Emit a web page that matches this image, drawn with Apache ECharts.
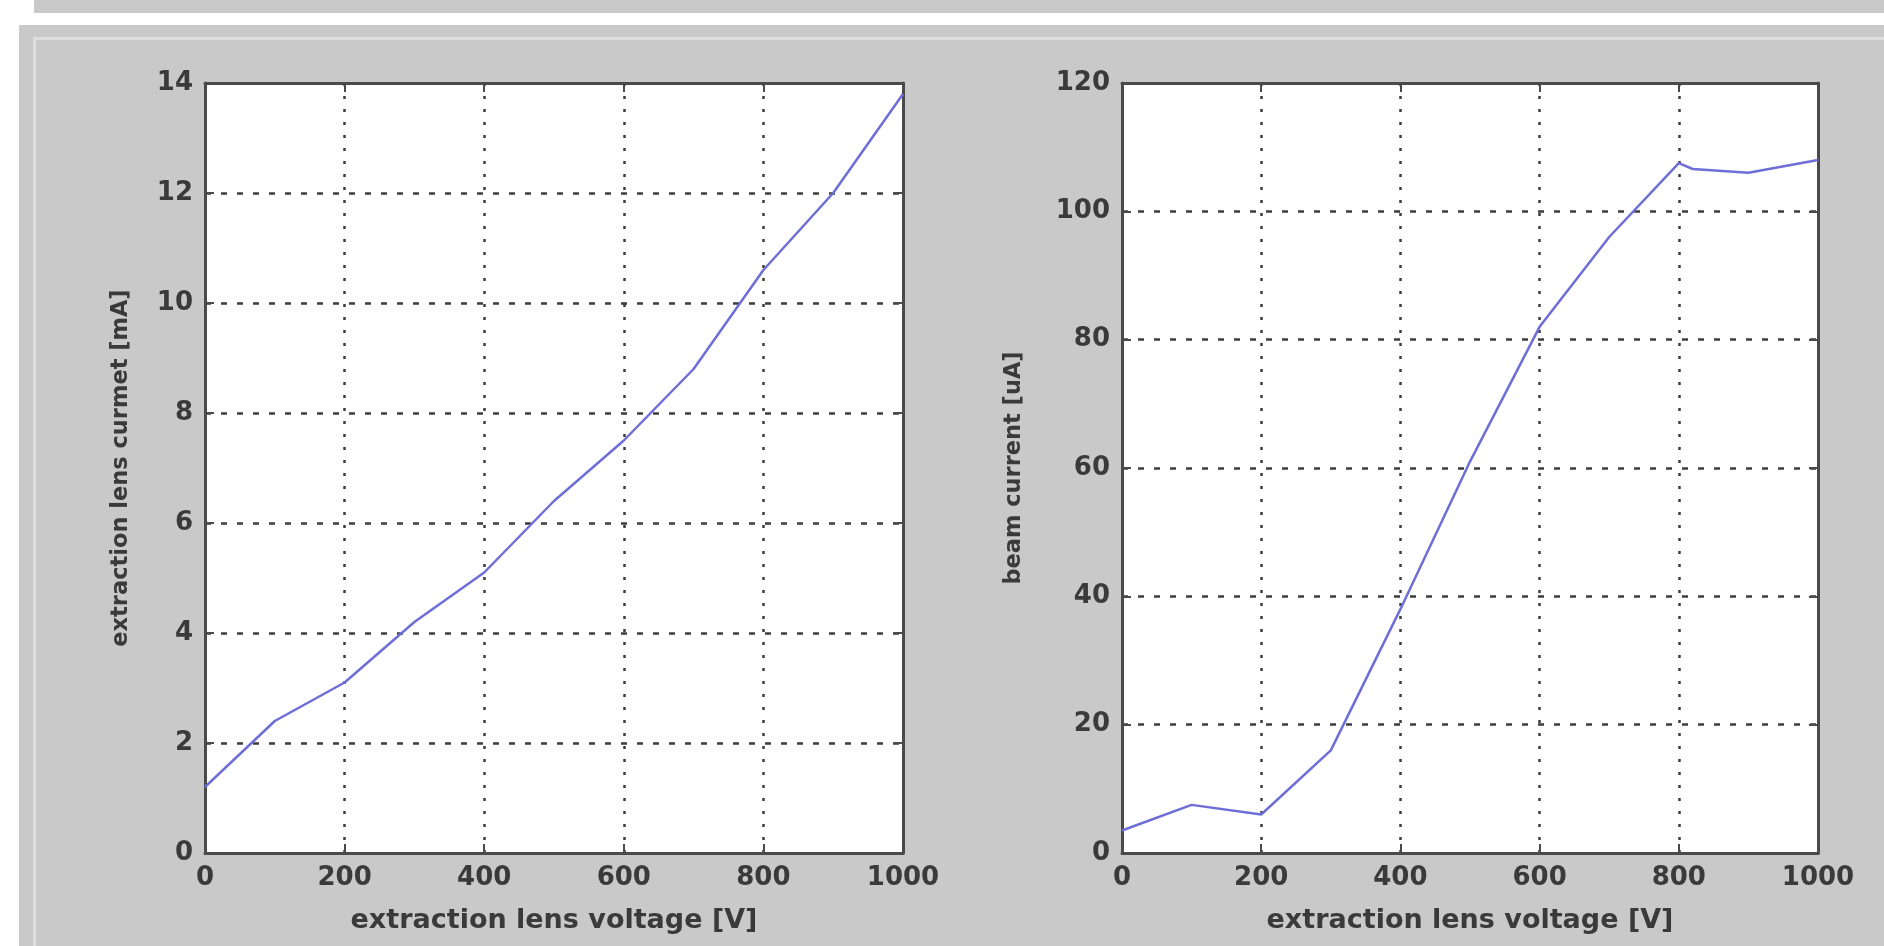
<!DOCTYPE html>
<html>
<head>
<meta charset="utf-8">
<script src="https://cdn.jsdelivr.net/npm/echarts@6/dist/echarts.min.js"></script>
<style>
  html, body { margin: 0; padding: 0; background: #ffffff; width: 1884px; height: 946px; overflow: hidden; }
  #band { position: absolute; left: 34px; top: 0; right: 0; height: 13px; background: #c9c9c9; }
  #panel { position: absolute; left: 19px; top: 25px; right: 0; bottom: 0; background: #c9c9c9; }
  #bevel { position: absolute; left: 33px; top: 37px; right: 0; bottom: 0; border-left: 3px solid #dedede; border-top: 3px solid #dedede; }
  #chart { position: absolute; left: 0; top: 0; width: 1884px; height: 946px; }
</style>
</head>
<body>
<div id="band"></div>
<div id="panel"></div>
<div id="bevel"></div>
<div id="chart"></div>
<script>
// ---- data ----
const voltage = [0, 100, 200, 300, 400, 500, 600, 700, 800, 900, 1000];
const lensCurrent = [1.2, 2.4, 3.1, 4.2, 5.1, 6.4, 7.5, 8.8, 10.6, 12.0, 13.8];
const beamVoltage = [0, 100, 200, 300, 400, 500, 600, 700, 800, 820, 900, 1000];
const beamCurrent = [3.5, 7.5, 6.0, 16.0, 38.0, 61.0, 82.0, 96.0, 107.5, 106.6, 106.0, 108.0];
const xTitle = 'extraction lens voltage [V]';
const yTitleLeft = 'extraction lens curmet [mA]';
const yTitleRight = 'beam current [uA]';

const FONT = 'DejaVu Sans';
const TXT = '#3a3a3a';
const FRAME = '#4a4a4a';
const GRIDC = '#3c3c3c';
const LINE = '#6e6ed8';

function pairs(xs, ys) { return xs.map((x, i) => [x, ys[i]]); }
const plain = v => String(v);
const frameLine = { show: true, onZero: false, lineStyle: { color: FRAME, width: 3 } };
const innerTick = { show: true, inside: true, length: 9, lineStyle: { color: FRAME, width: 2 } };

function mainX(gi) {
  return {
    type: 'value', gridIndex: gi, position: 'bottom', min: 0, max: 1000, interval: 200,
    axisLine: frameLine, axisTick: innerTick,
    axisLabel: { color: TXT, fontFamily: FONT, fontWeight: 'bold', fontSize: 26, margin: 12, formatter: plain },
    splitLine: { show: true, showMinLine: false, showMaxLine: false, lineStyle: { color: GRIDC, width: 2.5, type: [3, 10] } },
    name: xTitle, nameLocation: 'middle', nameGap: 54,
    nameTextStyle: { color: TXT, fontFamily: FONT, fontWeight: 'bold', fontSize: 27 }
  };
}
function topX(gi) {
  return {
    type: 'value', gridIndex: gi, position: 'top', min: 0, max: 1000, interval: 200,
    axisLine: frameLine, axisTick: innerTick,
    axisLabel: { show: false }, splitLine: { show: false }
  };
}
function mainY(gi, max, interval, name, gap) {
  return {
    type: 'value', gridIndex: gi, position: 'left', min: 0, max: max, interval: interval,
    axisLine: frameLine, axisTick: innerTick,
    axisLabel: { color: TXT, fontFamily: FONT, fontWeight: 'bold', fontSize: 26, margin: 12, formatter: plain },
    splitLine: { show: true, showMinLine: false, showMaxLine: false, lineStyle: { color: GRIDC, width: 2.5, type: [6, 10] } },
    name: name, nameLocation: 'middle', nameGap: gap, nameRotate: 90,
    nameTextStyle: { color: TXT, fontFamily: FONT, fontWeight: 'bold', fontSize: 22.5 }
  };
}
function rightY(gi, max, interval) {
  return {
    type: 'value', gridIndex: gi, position: 'right', min: 0, max: max, interval: interval,
    axisLine: frameLine, axisTick: innerTick,
    axisLabel: { show: false }, splitLine: { show: false }
  };
}

const chart = echarts.init(document.getElementById('chart'), null, { renderer: 'canvas' });
chart.setOption({
  animation: false,
  backgroundColor: 'transparent',
  grid: [
    { left: 205, top: 83, width: 698, height: 770, show: true, backgroundColor: '#ffffff', borderWidth: 0 },
    { left: 1122, top: 83, width: 696, height: 770, show: true, backgroundColor: '#ffffff', borderWidth: 0 }
  ],
  xAxis: [mainX(0), topX(0), mainX(1), topX(1)],
  yAxis: [mainY(0, 14, 2, yTitleLeft, 72), rightY(0, 14, 2), mainY(1, 120, 20, yTitleRight, 96), rightY(1, 120, 20)],
  series: [
    { type: 'line', xAxisIndex: 0, yAxisIndex: 0, data: pairs(voltage, lensCurrent), showSymbol: false, smooth: false,
      lineStyle: { color: LINE, width: 2.5 } },
    { type: 'line', xAxisIndex: 2, yAxisIndex: 2, data: pairs(beamVoltage, beamCurrent), showSymbol: false, smooth: false,
      lineStyle: { color: LINE, width: 2.5 } }
  ]
});
</script>
</body>
</html>
